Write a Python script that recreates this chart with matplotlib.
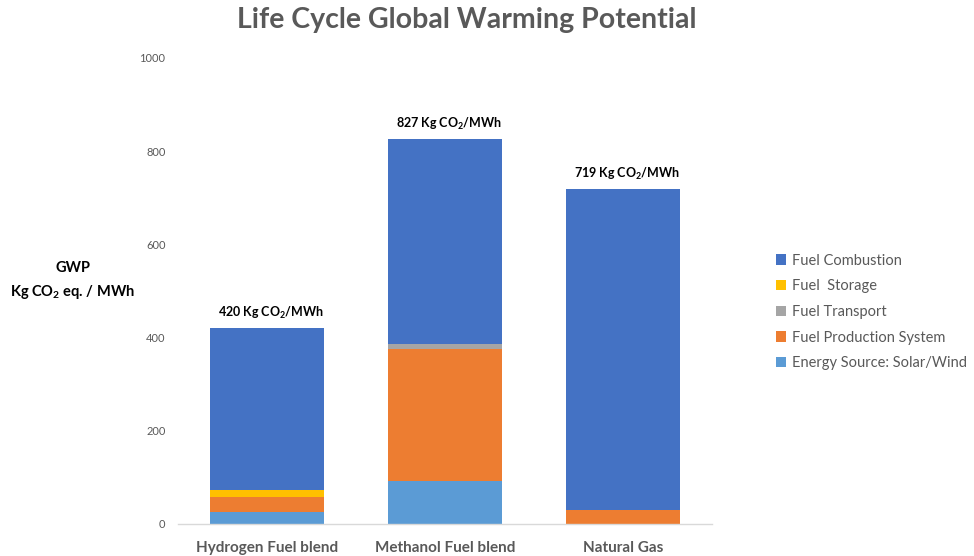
import matplotlib
matplotlib.use("Agg")
import matplotlib.pyplot as plt
import numpy as np
from matplotlib.patches import Patch

plt.rcParams['font.family'] = ['Lato', 'DejaVu Sans']
plt.rcParams['mathtext.fontset'] = 'custom'
plt.rcParams['mathtext.rm'] = 'Lato'
plt.rcParams['mathtext.bf'] = 'Lato:bold'
plt.rcParams['mathtext.default'] = 'regular'

categories = ["Hydrogen Fuel blend", "Methanol Fuel blend", "Natural Gas"]
series_names = ["Energy Source: Solar/Wind", "Fuel Production System",
                "Fuel Transport", "Fuel  Storage", "Fuel Combustion"]
solar_wind = [26, 92, 0]
production = [32, 283, 30]
transport = [0, 11, 0]
storage = [15, 0, 0]
combustion = [347, 441, 689]
totals = [420, 827, 719]
yticks = [0, 200, 400, 600, 800, 1000]

colors = ["#5B9BD5", "#ED7D31", "#A5A5A5", "#FFC000", "#4472C4"]
series = [solar_wind, production, transport, storage, combustion]

fig = plt.figure(figsize=(9.74, 5.56), dpi=100)
ax = fig.add_axes([178 / 974, 1 - 524 / 556, (712 - 178) / 974, (524 - 58) / 556])

x = np.arange(len(categories))
bottom = np.zeros(len(categories))
for vals, col in zip(series, colors):
    ax.bar(x, vals, bottom=bottom, width=0.646, color=col, linewidth=0)
    bottom += np.array(vals)

for xi, tot in zip(x, totals):
    ax.annotate(f"{tot} Kg CO$_2$/MWh", (xi, tot), xytext=(3, 5),
                textcoords="offset points", ha="center", va="bottom",
                fontsize=9, fontweight="bold", color="black")

ax.set_xlim(-0.5, 2.5)
ax.set_ylim(0, 1000)
ax.set_yticks(yticks)
ax.set_yticklabels([str(t) for t in yticks], fontsize=8, color="#595959")
ax.set_xticks(x)
ax.set_xticklabels(categories, fontsize=11, fontweight="bold", color="#595959")
ax.tick_params(axis="y", length=0, pad=9)
ax.tick_params(axis="x", length=0, pad=12)
for side in ["top", "right", "left"]:
    ax.spines[side].set_visible(False)
ax.spines["bottom"].set_color("#D9D9D9")
ax.spines["bottom"].set_linewidth(1)

fig.text(73 / 974, 1 - 281 / 556, "GWP\nKg CO$_2$ eq. / MWh", ha="center", va="center",
         fontsize=10.5, fontweight="bold", color="black", linespacing=1.6)

fig.text(467 / 974, 1 - 20 / 556, "Life Cycle Global Warming Potential",
         ha="center", va="center", fontsize=20.5, fontweight="bold", color="#595959")

legend_order = [4, 3, 2, 1, 0]
handles = [Patch(facecolor=colors[i], edgecolor="none") for i in legend_order]
labels = [series_names[i] for i in legend_order]
fig.legend(handles, labels, loc="center left", bbox_to_anchor=(763 / 974, 1 - 312 / 556),
           frameon=False, fontsize=10.5, labelcolor="#595959", handlelength=0.7,
           handleheight=0.7, handletextpad=0.4, labelspacing=0.8)

fig.savefig("out.png", dpi=100)
